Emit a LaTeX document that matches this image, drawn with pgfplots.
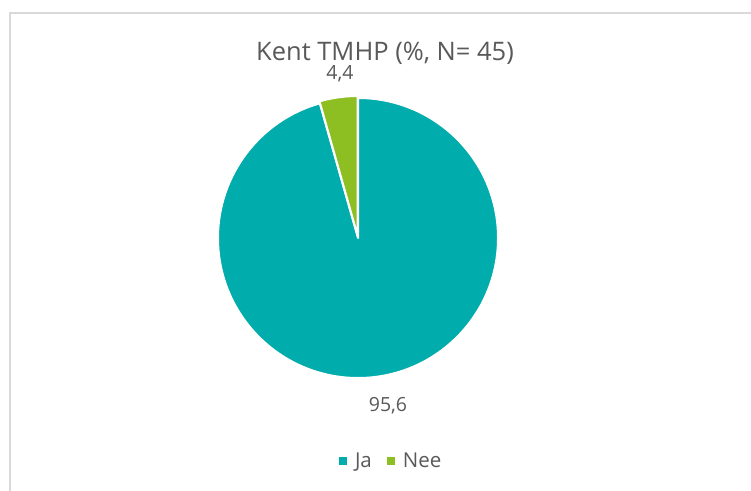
\documentclass[border=0pt]{standalone}
\usepackage{fontspec}
\setmainfont{Open Sans}
\usepackage{pgfplots}
\usepackage{pgfplotstable}
\pgfplotsset{compat=1.18}
\definecolor{ja}{HTML}{00ACAC}
\definecolor{nee}{HTML}{8DBE22}
\definecolor{txt}{HTML}{595959}
\definecolor{framec}{HTML}{D9D9D9}
\pgfplotstableread{
label value
Ja 95.6
Nee 4.4
}\piedata
\begin{document}
\begin{tikzpicture}[x=1pt,y=1pt]
\useasboundingbox (0,0) rectangle (751,490);
\draw[framec, line width=1.3pt] (800,477) -- (10,477) -- (10,-10);
\node[txt, font=\fontsize{25.5}{30}\selectfont] at (385,437) {Kent TMHP (\%, N= 45)};
\pgfplotstablegetelem{0}{value}\of\piedata \let\vja\pgfplotsretval
\pgfplotstablegetelem{1}{value}\of\piedata \let\vnee\pgfplotsretval
\pgfmathsetmacro\ea{90-3.6*\vja}
\pgfmathsetmacro\eb{\ea-3.6*\vnee}
\pgfmathsetmacro\mid{(\ea+\eb)/2}
\begin{axis}[at={(358pt,252pt)}, anchor=center, x=140pt, y=140pt,
  xmin=-1, xmax=1, ymin=-1, ymax=1, hide axis, clip=false,
  legend columns=2,
  legend image code/.code={\fill[#1] (0pt,-4pt) rectangle (8pt,4pt);},
  legend style={draw=none, fill=none, at={(0.6185,-0.2965)}, anchor=center,
    font=\fontsize{20.5}{24}\selectfont, text=txt,
    /tikz/every odd column/.append style={column sep=6pt},
    /tikz/every even column/.append style={column sep=13pt}},
]
\addlegendimage{fill=ja, draw=none}
\addlegendentry{Ja}
\addlegendimage{fill=nee, draw=none}
\addlegendentry{Nee}
\filldraw[fill=ja, draw=white, line width=2pt, line join=round]
  (axis cs:0,0) -- (axis cs:0,1) arc[start angle=90, end angle=\ea, radius=140pt] -- cycle;
\filldraw[fill=nee, draw=white, line width=2pt, line join=round, shift={(\mid:2pt)}]
  (axis cs:0,0) -- (axis cs:{cos(\ea)},{sin(\ea)}) arc[start angle=\ea, end angle=\eb, radius=140pt] -- cycle;
\node[txt, font=\fontsize{19.5}{23}\selectfont] at (axis cs:-0.129,1.171) {4,4};
\node[txt, font=\fontsize{19.5}{23}\selectfont] at (axis cs:0.214,-1.2) {95,6};
\end{axis}
\end{tikzpicture}
\end{document}
